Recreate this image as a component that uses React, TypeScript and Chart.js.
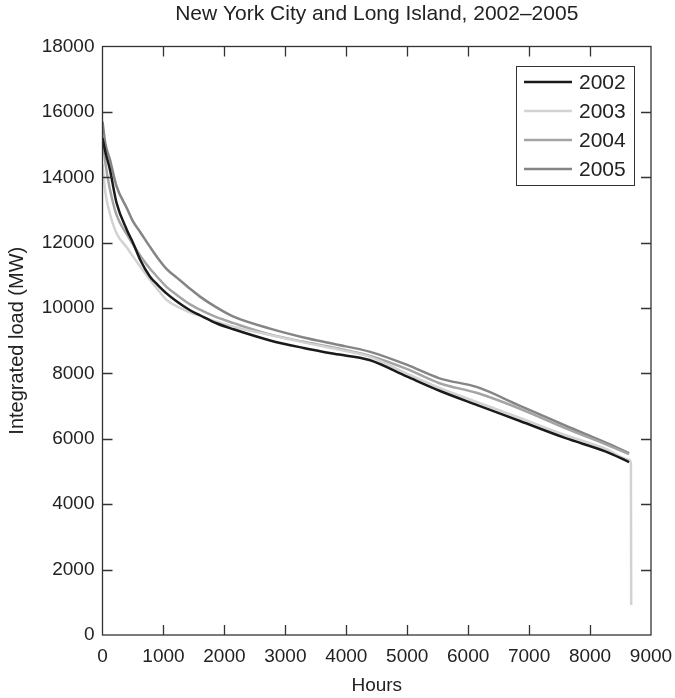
import React, { useEffect, useRef } from "react";
import { Chart, registerables } from "chart.js";
Chart.register(...registerables);

const title = "New York City and Long Island, 2002–2005";
const xTitle = "Hours";
const yTitle = "Integrated load (MW)";
const years = ["2002", "2003", "2004", "2005"];
const colors = ["#1a1a1a", "#d2d2d2", "#a4a4a4", "#858585"];

const hours = [0, 50, 120, 230, 400, 500, 620, 780, 900, 1050, 1220, 1430, 1600, 1870, 2150, 2750, 3300, 3800, 4380, 5000, 5530, 6150, 6850, 7600, 8260, 8640];
const load2002 = [15200, 14750, 14250, 13220, 12390, 12000, 11470, 10960, 10720, 10450, 10200, 9940, 9780, 9535, 9350, 9010, 8780, 8600, 8410, 7900, 7470, 7030, 6545, 6020, 5610, 5290];
const load2003 = [14400, 13500, 12900, 12290, 11850, 11580, 11270, 10860, 10580, 10250, 10050, 9870, 9760, 9580, 9430, 9175, 8950, 8760, 8513, 7990, 7560, 7120, 6640, 6110, 5690, 5360];
const tailHours2003 = [8670, 8675];
const tailLoad2003 = [5250, 920];
const load2004 = [15300, 14400, 13650, 12850, 12250, 11950, 11600, 11200, 10950, 10650, 10400, 10120, 9950, 9720, 9540, 9190, 8970, 8790, 8540, 8130, 7700, 7400, 6920, 6320, 5830, 5530];
const load2005 = [15700, 15000, 14560, 13730, 13050, 12650, 12320, 11870, 11550, 11200, 10930, 10600, 10350, 10020, 9735, 9370, 9100, 8900, 8666, 8260, 7850, 7580, 7010, 6400, 5880, 5560];

const xMin = 0, xMax = 9000, xStep = 1000;
const yMin = 0, yMax = 18000, yStep = 2000;

const FONT = "'Liberation Sans', Arial, Helvetica, sans-serif";
const TEXT = "#222222";
const TICK_SIZE = 19;

const toPts = (xs: number[], ys: number[]) => xs.map((x, i) => ({ x, y: ys[i] }));

const decorPlugin = {
  id: "decor",
  afterDraw(chart: any) {
    const { ctx, chartArea } = chart;
    const { left, right, top, bottom } = chartArea;
    const xs = chart.scales.x;
    const ys = chart.scales.y;
    ctx.save();
    ctx.strokeStyle = "#333333";
    ctx.lineWidth = 1.3;
    ctx.strokeRect(left, top, right - left, bottom - top);
    const tl = 10;
    ctx.beginPath();
    for (let v = xMin + xStep; v < xMax; v += xStep) {
      const px = Math.round(xs.getPixelForValue(v)) + 0.5;
      ctx.moveTo(px, bottom);
      ctx.lineTo(px, bottom - tl);
      ctx.moveTo(px, top);
      ctx.lineTo(px, top + tl);
    }
    for (let v = yMin + yStep; v < yMax; v += yStep) {
      const py = Math.round(ys.getPixelForValue(v)) + 0.5;
      ctx.moveTo(left, py);
      ctx.lineTo(left + tl, py);
      ctx.moveTo(right, py);
      ctx.lineTo(right - tl, py);
    }
    ctx.stroke();
    ctx.fillStyle = TEXT;
    ctx.textAlign = "center";
    ctx.textBaseline = "middle";
    ctx.font = `21px ${FONT}`;
    ctx.fillText(title, (left + right) / 2, 14);
    ctx.font = `19px ${FONT}`;
    ctx.fillText(xTitle, (left + right) / 2, 686);
    ctx.save();
    ctx.font = `20px ${FONT}`;
    ctx.translate(17, (top + bottom) / 2);
    ctx.rotate(-Math.PI / 2);
    ctx.fillText(yTitle, 0, 0);
    ctx.restore();
    const lx = 516, ly = 66, lw = 118, lh = 119;
    ctx.fillStyle = "#ffffff";
    ctx.fillRect(lx, ly, lw, lh);
    ctx.strokeStyle = "#333333";
    ctx.lineWidth = 1;
    ctx.strokeRect(lx + 0.5, ly + 0.5, lw, lh);
    chart.data.datasets.forEach((ds: any, i: number) => {
      const cy = ly + 16 + i * 29;
      ctx.strokeStyle = ds.borderColor;
      ctx.lineWidth = 2.5;
      ctx.beginPath();
      ctx.moveTo(lx + 8, cy);
      ctx.lineTo(lx + 56, cy);
      ctx.stroke();
      ctx.fillStyle = TEXT;
      ctx.font = `21px ${FONT}`;
      ctx.textAlign = "left";
      ctx.textBaseline = "middle";
      ctx.fillText(ds.label, lx + 63, cy + 1);
    });
    ctx.restore();
  },
};

export default function App() {
  const ref = useRef<HTMLCanvasElement | null>(null);
  useEffect(() => {
    if (!ref.current) return;
    const series = [
      toPts(hours, load2002),
      toPts(hours.concat(tailHours2003), load2003.concat(tailLoad2003)),
      toPts(hours, load2004),
      toPts(hours, load2005),
    ];
    const chart = new Chart(ref.current, {
      type: "line",
      data: {
        datasets: years.map((y, i) => ({
          label: y,
          data: series[i],
          borderColor: colors[i],
          backgroundColor: colors[i],
          borderWidth: 2.5,
          pointRadius: 0,
          cubicInterpolationMode: "monotone" as const,
          fill: false,
        })),
      },
      options: {
        animation: false,
        responsive: false,
        maintainAspectRatio: false,
        layout: { padding: { top: 46.5, right: 24, left: 0, bottom: 0 } },
        plugins: { legend: { display: false }, title: { display: false }, tooltip: { enabled: false } },
        scales: {
          x: {
            type: "linear",
            min: xMin,
            max: xMax,
            ticks: { stepSize: xStep, color: TEXT, font: { size: TICK_SIZE, family: FONT }, padding: 10, maxRotation: 0, autoSkip: false, callback: (v: any) => String(v) },
            grid: { display: false, drawTicks: false },
            border: { display: false },
            afterFit: (s: any) => { s.height = 63; s.paddingLeft = 0; s.paddingRight = 0; },
          },
          y: {
            type: "linear",
            min: yMin,
            max: yMax,
            ticks: { stepSize: yStep, color: TEXT, font: { size: TICK_SIZE, family: FONT }, padding: 8, autoSkip: false, callback: (v: any) => String(v) },
            grid: { display: false, drawTicks: false },
            border: { display: false },
            afterFit: (s: any) => { s.width = 102.5; s.paddingTop = 0; s.paddingBottom = 0; },
          },
        },
      },
      plugins: [decorPlugin],
    });
    return () => chart.destroy();
  }, []);
  return (
    <div style={{ position: "absolute", left: 0, top: 0, width: 675, height: 698, background: "#fff" }}>
      <canvas ref={ref} width={675} height={698} style={{ display: "block" }} />
    </div>
  );
}
